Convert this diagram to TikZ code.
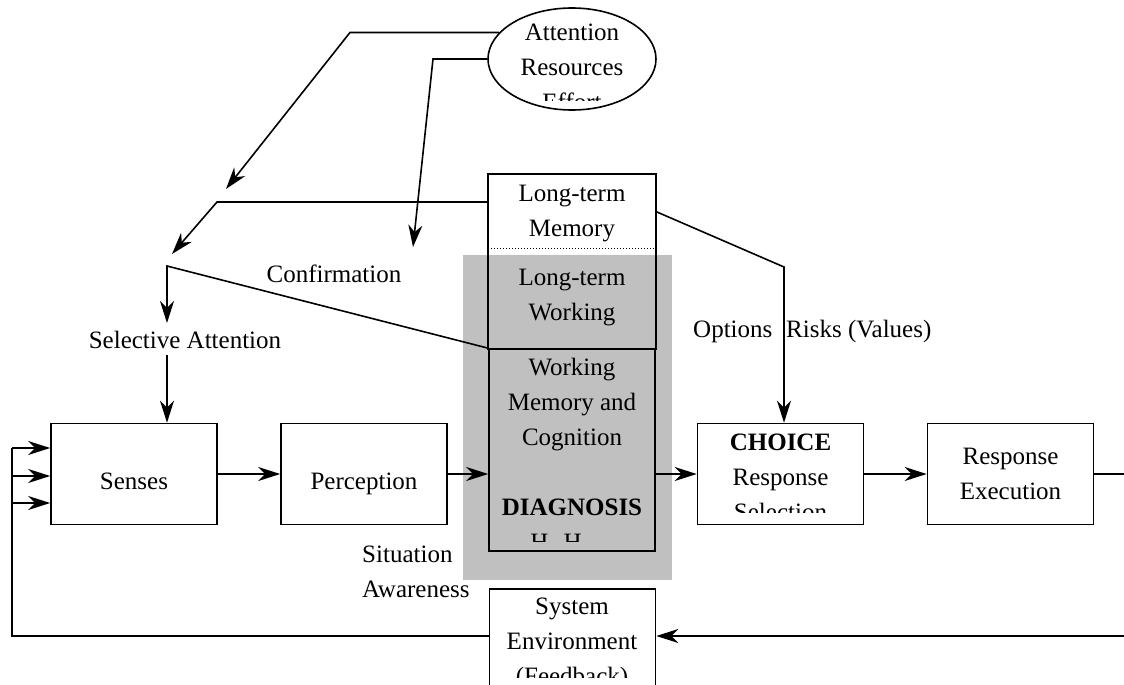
\documentclass[tikz,border=0pt]{standalone}
\usepackage{fontspec}
\setmainfont{Liberation Serif}
\usetikzlibrary{arrows.meta,shapes.geometric}
\definecolor{shadegray}{RGB}{192,192,192}
\tikzset{
  stagebox/.style={draw,line width=1.6pt,minimum width=166pt,minimum height=101pt,inner sep=0pt},
  txt/.style={font=\fontsize{25}{35}\selectfont,align=center,inner sep=0pt},
  wire/.style={line width=1.6pt},
  flow/.style={wire,-{Stealth[length=22pt,width=14pt,inset=7pt]}},
}
\begin{document}
\begin{tikzpicture}[x=1pt,y=-1pt]
  \useasboundingbox (0,0) rectangle (1124,685);
  \fill[shadegray] (463,255) rectangle (672,580);
  % boxes
  \node[stagebox] (senses) at (134,474) {};
  \node[stagebox] (perc) at (364,474) {};
  \node[stagebox] (choice) at (780.5,474) {};
  \node[stagebox] (resp) at (1010.5,474) {};
  \node[stagebox,draw=none,minimum height=73pt] (ltm) at (572,211.5) {};
  \node[stagebox,draw=none] (ltw) at (572,298.5) {};
  \node[stagebox,minimum height=202pt] (wm) at (572,450) {};
  \node[stagebox,minimum height=112pt] (sysenv) at (572.5,645) {};
  \node[ellipse,draw,line width=1.6pt,minimum width=168pt,minimum height=102pt,inner sep=0pt] (att) at (572,59) {};
  \draw[wire] (ltw.south west) |- (ltm.north east) -- (ltw.south east);
  \draw[dotted,line width=1pt] (ltm.south west) -- (ltm.south east);
  % texts
  \begin{scope}
    \clip (480,0) rectangle (665,100);
    \node[txt] (att-t) at (572,67) {Attention\\Resources\\Effort};
  \end{scope}
  \node[txt] (ltm-t) at (572,214) {Long-term\\Memory};
  \node[txt] (ltw-t) at (572,297.5) {Long-term\\Working};
  \begin{scope}
    \clip (480,340) rectangle (665,541);
    \node[txt] (wm-t) at (572,437) {Working\\Memory and\\Cognition\\[35pt]\textbf{DIAGNOSIS}};
    \node[txt,anchor=base] (wm-cut) at (556,550) {H\hspace{15pt}H};
  \end{scope}
  \begin{scope}
    \clip (690,415) rectangle (870,512);
    \node[txt] (choice-t) at (780.5,477) {\textbf{CHOICE}\\Response\\Selection};
  \end{scope}
  \node[txt] (resp-t) at (1010.5,474) {Response\\Execution};
  \begin{scope}
    \clip (480,585) rectangle (665,677);
    \node[txt] (sys-t) at (572,644) {System\\Environment\\(Feedback)};
  \end{scope}
  \node[txt,anchor=base] (senses-t) at (134,489) {Senses};
  \node[txt,anchor=base] (perc-t) at (364,489) {Perception};
  \node[txt,anchor=base] (selatt) at (185,348) {Selective Attention};
  \node[txt,anchor=base] (confirm) at (334,282) {Confirmation};
  \node[txt,anchor=base west] (opts) at (693,337) {Options};
  \node[txt,anchor=base west] (risks) at (786,337) {Risks (Values)};
  \node[txt,anchor=west,align=left] (sitaw) at (362,572) {Situation\\Awareness};
  % bend points
  \coordinate (a1) at (350,33);
  \coordinate (a1tip) at (226,189);
  \coordinate (a2) at (433,59);
  \coordinate (a2tip) at (413,247);
  \coordinate (b1) at (217,202);
  \coordinate (b1tip) at (172,254);
  \coordinate (c1) at (167,266);
  \coordinate (c1tip) at (167,323);
  \coordinate (d1) at (784,267);
  \coordinate (rEdge) at (1124,636);
  \coordinate (lEdge) at (12,636);
  \coordinate (in1) at (12,448);
  \coordinate (in2) at (12,476);
  \coordinate (in3) at (12,503);
  % connectors
  \draw[flow] (att.160) -- (att.160 -| a1) -- (a1tip);
  \draw[flow] (att.west) -- (att.west -| a2) -- (a2tip);
  \draw[flow] (ltm.west |- b1) -- (b1) -- (b1tip);
  \draw[flow] (wm.north west) -- (c1) -- (c1tip);
  \draw[flow,shorten <=7pt] (selatt.south -| c1) -- (senses.north -| c1);
  \draw[flow] (ltm.east) -- (d1) -- (d1 |- choice.north);
  \draw[flow] (senses.east) -- (perc.west);
  \draw[flow] (perc.east) -- (wm.west |- perc.east);
  \draw[flow] (wm.east |- choice.west) -- (choice.west);
  \draw[flow] (choice.east) -- (resp.west);
  \draw[wire] (resp.east) -- (resp.east -| rEdge);
  \draw[flow] (rEdge) -- (sysenv.east |- rEdge);
  \draw[wire] (sysenv.west |- lEdge) -- (lEdge) -- (in1);
  \foreach \k in {1,2,3}
    \draw[flow] (in\k) -- (in\k -| senses.west);
\end{tikzpicture}
\end{document}
